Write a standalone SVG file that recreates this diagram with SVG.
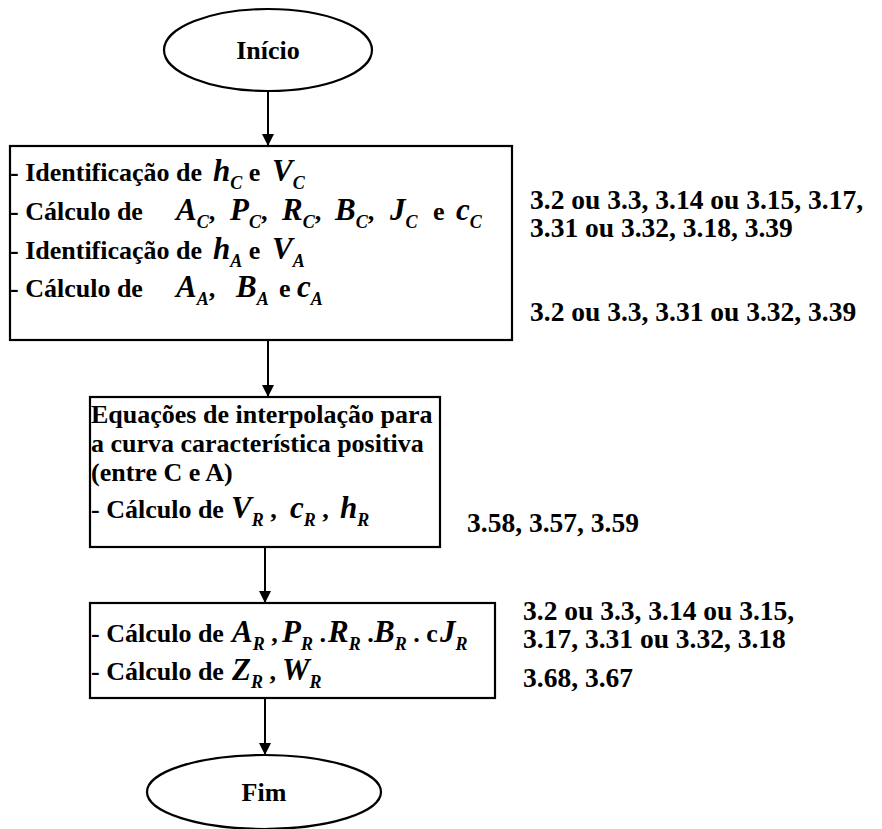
<svg xmlns="http://www.w3.org/2000/svg" width="882" height="829" viewBox="0 0 882 829">
  <style>
    .shape { fill: #fff; stroke: #000; stroke-width: 2.2; }
    .edge { fill: none; stroke: #000; stroke-width: 2; }
    .t { font-size: 26px; font-weight: bold; fill: #000; }
    .v { font-style: italic; font-size: 31px; }
    .s { font-style: italic; font-size: 18px; }
    .ref { font-size: 27.5px; font-weight: bold; fill: #000; }
  </style>
  <defs>
    <marker id="arrow" viewBox="0 0 10 10" refX="10" refY="5" markerWidth="12" markerHeight="12" markerUnits="userSpaceOnUse" orient="auto">
      <path d="M0,0 L10,5 L0,10 z" fill="#000"/>
    </marker>
  </defs>

  <!-- connectors -->
  <g id="connectors">
    <line class="edge" x1="268" y1="91" x2="268" y2="146" marker-end="url(#arrow)"/>
    <line class="edge" x1="268" y1="340" x2="268" y2="397" marker-end="url(#arrow)"/>
    <line class="edge" x1="265" y1="547" x2="265" y2="603" marker-end="url(#arrow)"/>
    <line class="edge" x1="265" y1="698" x2="265" y2="755" marker-end="url(#arrow)"/>
  </g>

  <!-- start terminal -->
  <g id="inicio" font-family="Liberation Serif">
    <ellipse class="shape" cx="268" cy="50" rx="104" ry="41"/>
    <text class="t" x="268" y="59" text-anchor="middle">Início</text>
  </g>

  <!-- block C / A -->
  <g id="calc-c-a" font-family="Liberation Serif">
    <rect class="shape" x="10" y="146" width="502" height="194"/>
    <text class="t" x="10" y="181">- Identificação de<tspan class="v" x="213">h</tspan><tspan class="s" dy="8">C</tspan><tspan dy="-8"> e </tspan><tspan class="v" x="272">V</tspan><tspan class="s" dy="8">C</tspan></text>
    <text class="t" x="10" y="220">- Cálculo de<tspan class="v" x="176">A</tspan><tspan class="s" dy="8">C</tspan><tspan dy="-8">,</tspan><tspan class="v" x="230">P</tspan><tspan class="s" dy="8">C</tspan><tspan dy="-8">,</tspan><tspan class="v" x="282">R</tspan><tspan class="s" dy="8">C</tspan><tspan dy="-8">,</tspan><tspan class="v" x="335">B</tspan><tspan class="s" dy="8">C</tspan><tspan dy="-8">,</tspan><tspan class="v" x="390">J</tspan><tspan class="s" dy="8">C</tspan><tspan dy="-8" x="433">e</tspan><tspan class="v" x="456">c</tspan><tspan class="s" dy="8">C</tspan></text>
    <text class="t" x="10" y="259">- Identificação de<tspan class="v" x="213">h</tspan><tspan class="s" dy="8">A</tspan><tspan dy="-8"> e </tspan><tspan class="v" x="272">V</tspan><tspan class="s" dy="8">A</tspan></text>
    <text class="t" x="10" y="297">- Cálculo de<tspan class="v" x="176">A</tspan><tspan class="s" dy="8">A</tspan><tspan dy="-8">,</tspan><tspan class="v" x="236">B</tspan><tspan class="s" dy="8">A</tspan><tspan dy="-8" x="279">e</tspan><tspan class="v" x="297">c</tspan><tspan class="s" dy="8">A</tspan></text>
  </g>

  <!-- interpolation block -->
  <g id="interpolacao" font-family="Liberation Serif">
    <rect class="shape" x="90" y="397" width="350" height="150"/>
    <text class="t" x="91" y="423">Equações de interpolação para</text>
    <text class="t" x="91" y="452">a curva característica positiva</text>
    <text class="t" x="91" y="481">(entre C e A)</text>
    <text class="t" x="91" y="518">- Cálculo de<tspan class="v" x="231">V</tspan><tspan class="s" dy="8">R</tspan><tspan dy="-8"> ,</tspan><tspan class="v" x="290">c</tspan><tspan class="s" dy="8">R</tspan><tspan dy="-8"> ,</tspan><tspan class="v" x="340">h</tspan><tspan class="s" dy="8">R</tspan></text>
  </g>

  <!-- block R -->
  <g id="calc-r" font-family="Liberation Serif">
    <rect class="shape" x="90" y="603" width="405" height="95"/>
    <text class="t" x="91" y="642">- Cálculo de<tspan class="v" x="232">A</tspan><tspan class="s" dy="8">R</tspan><tspan dy="-8"> ,</tspan><tspan class="v" x="282">P</tspan><tspan class="s" dy="8">R</tspan><tspan dy="-8"> .</tspan><tspan class="v" x="328">R</tspan><tspan class="s" dy="8">R</tspan><tspan dy="-8"> .</tspan><tspan class="v" x="374">B</tspan><tspan class="s" dy="8">R</tspan><tspan dy="-8"> . c</tspan><tspan class="v" x="440">J</tspan><tspan class="s" dy="8">R</tspan></text>
    <text class="t" x="91" y="680">- Cálculo de<tspan class="v" x="232">Z</tspan><tspan class="s" dy="8">R</tspan><tspan dy="-8"> ,</tspan><tspan class="v" x="282">W</tspan><tspan class="s" dy="8">R</tspan></text>
  </g>

  <!-- end terminal -->
  <g id="fim" font-family="Liberation Serif">
    <ellipse class="shape" cx="264" cy="792" rx="117" ry="37"/>
    <text class="t" x="264" y="801" text-anchor="middle">Fim</text>
  </g>

  <!-- equation references -->
  <g id="referencias" font-family="Liberation Serif">
    <text class="ref" x="530" y="209">3.2 ou 3.3, 3.14 ou 3.15, 3.17,</text>
    <text class="ref" x="530" y="237">3.31 ou 3.32, 3.18, 3.39</text>
    <text class="ref" x="530" y="321">3.2 ou 3.3, 3.31 ou 3.32, 3.39</text>
    <text class="ref" x="467" y="532">3.58, 3.57, 3.59</text>
    <text class="ref" x="523" y="620">3.2 ou 3.3, 3.14 ou 3.15,</text>
    <text class="ref" x="523" y="648">3.17, 3.31 ou 3.32, 3.18</text>
    <text class="ref" x="523" y="687">3.68, 3.67</text>
  </g>
</svg>
